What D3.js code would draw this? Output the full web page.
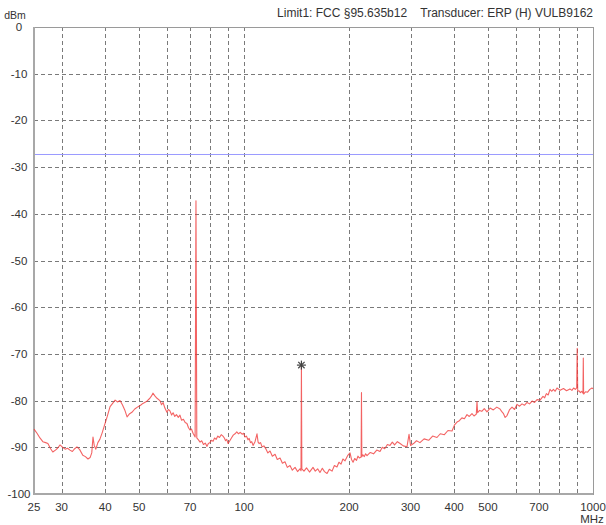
<!DOCTYPE html>
<html>
<head>
<meta charset="utf-8">
<script src="https://cdn.jsdelivr.net/npm/d3@7/dist/d3.min.js"></script>
<style>
  html, body { margin: 0; padding: 0; background: #fff; }
  svg { display: block; }
  text { font-family: "Liberation Sans", Arial, sans-serif; font-size: 11.5px; fill: #333; white-space: pre; }
</style>
</head>
<body>
<svg id="chart" width="606" height="525"></svg>
<script>
// Frequency axis (MHz, log) and level axis (dBm)
const freqDomain = [25, 1000];
const levelDomain = [-100, 0];
const freqTickLabels = [25, 30, 40, 50, 70, 100, 200, 300, 400, 500, 700, 1000];
const freqGridLines = [30, 40, 50, 60, 70, 80, 90, 100, 200, 300, 400, 500, 600, 700, 800, 900];
const levelTicks = [0, -10, -20, -30, -40, -50, -60, -70, -80, -90, -100];
const levelGridLines = [-10, -20, -30, -40, -50, -60, -70, -80, -90];

// Limit line level (dBm)
const limitLevel = -27.3;

// Measured spectrum: [frequency MHz, level dBm]
const trace = [
  [25, -86.1], [25.5, -87.0], [26, -88.0], [26.5, -88.8], [27, -89.0], [27.4, -89.2],
  [27.9, -90.3], [28.3, -91.0], [28.8, -90.6], [29.2, -90.2], [29.7, -89.5], [30.2, -90.0],
  [30.7, -90.4], [31.2, -90.2], [31.7, -90.6], [32.2, -90.9], [32.7, -90.3], [33.2, -89.9],
  [33.8, -90.5], [34.5, -91.7], [35.1, -92.0], [35.7, -92.5], [36.2, -92.2], [36.6, -91.2],
  [36.9, -87.8], [37.2, -89.6], [37.6, -90.4], [38.1, -89.0], [38.6, -88.3], [39.2, -86.9],
  [39.8, -85.3], [40.5, -83.5], [41.3, -81.3], [42.0, -80.6], [42.7, -79.9], [43.4, -80.3],
  [44.1, -80.0], [44.8, -80.9], [45.5, -82.0], [46.2, -83.5], [47.0, -82.8], [47.7, -82.5],
  [48.6, -81.8], [49.7, -81.3], [50.5, -81.0], [51.3, -80.6], [52.5, -80.2], [53.7, -79.5],
  [54.3, -79.0], [54.8, -78.4], [55.5, -79.0], [56.3, -79.5], [57.4, -80.0], [58.0, -80.9],
  [58.6, -80.4], [59.3, -81.6], [60.1, -82.5], [60.7, -81.9], [61.3, -82.2], [62.0, -83.1],
  [62.6, -82.6], [63.3, -83.4], [64.0, -83.0], [64.8, -83.6], [65.5, -83.1], [66.2, -84.2],
  [67.0, -84.0], [67.8, -84.7], [68.6, -84.9], [69.3, -85.8], [70.0, -86.3], [70.7, -86.1],
  [71.4, -87.0], [72.4, -87.8], [72.8, -37.2], [73.2, -88.0], [74.0, -88.4], [74.8, -88.9],
  [75.6, -88.6], [76.5, -89.4], [77.4, -89.1], [78.3, -89.8], [79.0, -89.2], [79.8, -89.0],
  [80.6, -88.5], [81.5, -88.7], [82.3, -88.0], [83.2, -88.3], [84.1, -87.6], [85.0, -87.9],
  [86.0, -87.3], [87.0, -87.6], [87.8, -88.0], [88.5, -88.6], [89.2, -88.3], [90.0, -89.2],
  [91.0, -88.6], [92.0, -88.0], [93.1, -87.4], [94.2, -87.1], [95.3, -86.7], [96.4, -87.1],
  [97.5, -86.8], [98.7, -87.2], [99.7, -87.0], [100.6, -87.8], [101.6, -87.6], [102.6, -88.4],
  [103.4, -88.1], [104.3, -89.0], [105.2, -88.8], [106.1, -89.6], [107.5, -88.8], [108.9, -87.1],
  [109.7, -88.9], [110.5, -89.2], [111.5, -89.0], [112.6, -89.9], [114.0, -89.7], [115.6, -90.4],
  [117.0, -91.2], [118.7, -90.8], [120.5, -91.9], [122.7, -91.5], [124.5, -92.6], [126.8, -92.3],
  [128.8, -93.4], [131.0, -93.1], [133.0, -94.3], [135.4, -93.9], [137.5, -94.9], [140.0, -94.3],
  [142.3, -95.2], [144.6, -94.6], [145.6, -95.0], [146.0, -72.4], [146.4, -94.6], [148.5, -95.1],
  [151.0, -94.4], [154.0, -95.3], [157.6, -94.3], [160.0, -95.1], [162.5, -94.6], [165.0, -95.4],
  [167.6, -94.5], [170.0, -95.2], [172.9, -95.6], [175.5, -94.7], [178.7, -95.1], [181.5, -93.9],
  [184.6, -94.2], [187.0, -93.2], [189.6, -93.6], [192.0, -92.5], [194.7, -92.9], [198.0, -91.8],
  [201.2, -91.2], [203.2, -92.6], [205.3, -93.2], [207.5, -92.4], [210.0, -92.8], [212.0, -91.9],
  [214.0, -92.3], [216.5, -92.1], [217.0, -78.3], [217.5, -92.0], [219.0, -91.6], [221.0, -92.0],
  [223.0, -91.4], [225.1, -91.8], [230.0, -91.1], [235.0, -91.4], [240.0, -90.6], [245.2, -90.9],
  [249.0, -90.0], [253.0, -90.3], [257.5, -89.4], [261.9, -89.6], [266.0, -88.9], [270.0, -89.5],
  [275.0, -88.8], [280.0, -89.2], [286.0, -89.7], [293.0, -89.9], [297.0, -87.2], [300.0, -89.6],
  [306.0, -89.2], [312.0, -88.6], [319.2, -89.0], [328.0, -88.2], [338.0, -88.5], [347.0, -87.6],
  [357.1, -87.9], [365.0, -87.1], [375.0, -87.3], [384.0, -86.4], [394.4, -86.5], [401.0, -85.2],
  [407.6, -84.6], [414.0, -84.3], [421.0, -83.7], [428.0, -83.9], [435.4, -83.0], [442.0, -83.4],
  [450.0, -82.8], [456.0, -83.3], [463.0, -82.9], [465.1, -80.2], [467.0, -82.6], [473.0, -82.1],
  [480.0, -82.3], [488.0, -81.7], [496.8, -82.4], [507.0, -81.6], [518.0, -82.0], [530.0, -81.4],
  [541.3, -81.8], [547.0, -82.3], [554.0, -82.8], [560.0, -83.6], [567.0, -83.2], [576.0, -82.0],
  [586.0, -81.4], [596.0, -81.9], [605.7, -80.8], [616.0, -81.2], [626.0, -80.7], [636.0, -81.0],
  [647.0, -80.4], [658.0, -80.7], [669.0, -80.1], [680.0, -80.4], [691.2, -79.8], [705.0, -79.9],
  [718.9, -79.1], [727.0, -79.4], [735.0, -78.5], [744.0, -78.8], [752.9, -77.6], [761.0, -78.0],
  [770.0, -77.6], [779.0, -78.0], [788.5, -77.3], [805.0, -77.8], [823.0, -77.4], [840.0, -77.9],
  [858.8, -77.5], [870.0, -77.8], [880.0, -77.3], [890.0, -77.6], [898.0, -77.3], [901.0, -68.8],
  [904.0, -78.0], [912.0, -77.9], [920.0, -78.3], [928.0, -78.0], [936.0, -78.4], [938.0, -70.9],
  [940.0, -78.6], [952.0, -78.1], [965.0, -78.2], [979.0, -77.6], [993.4, -77.3], [1000, -77.5]
];

// Peak marker
const markerFreq = 146.0;
const markerLevel = -72.4;

const headerText = "Limit1: FCC §95.635b12    Transducer: ERP (H) VULB9162";

const plot = { left: 34, right: 593, top: 27, bottom: 494 };
const svg = d3.select("#chart");

const x = d3.scaleLog().domain(freqDomain).range([plot.left, plot.right]);
const y = d3.scaleLinear().domain(levelDomain).range([plot.bottom, plot.top]);

// Dashed grid
const grid = svg.append("g")
  .attr("stroke", "#7a7a7a").attr("stroke-width", 1).attr("stroke-dasharray", "4,3");
grid.selectAll("line.v").data(freqGridLines).join("line")
  .attr("class", "v")
  .attr("x1", d => Math.round(x(d)) + 0.5).attr("x2", d => Math.round(x(d)) + 0.5)
  .attr("y1", plot.top).attr("y2", plot.bottom);
grid.selectAll("line.h").data(levelGridLines).join("line")
  .attr("class", "h")
  .attr("x1", plot.left).attr("x2", plot.right)
  .attr("y1", d => Math.round(y(d)) + 0.5).attr("y2", d => Math.round(y(d)) + 0.5);

// Limit line
svg.append("line")
  .attr("x1", plot.left).attr("x2", plot.right)
  .attr("y1", y(limitLevel)).attr("y2", y(limitLevel))
  .attr("stroke", "#9a9aff").attr("stroke-width", 1);

// Frame
svg.append("rect")
  .attr("x", plot.left + 0.5).attr("y", plot.top + 0.5)
  .attr("width", plot.right - plot.left).attr("height", plot.bottom - plot.top)
  .attr("fill", "none").attr("stroke", "#9a9a9a").attr("stroke-width", 1);
svg.append("path")
  .attr("d", `M${plot.left},${plot.top}V${plot.bottom}H${plot.right}`)
  .attr("fill", "none").attr("stroke", "#a8a8a8").attr("stroke-width", 2);

// Spectrum trace
const line = d3.line().x(d => x(d[0])).y(d => y(d[1]));
svg.append("path")
  .datum(trace)
  .attr("d", line)
  .attr("fill", "none")
  .attr("stroke", "#f03c3c")
  .attr("stroke-opacity", 0.8)
  .attr("stroke-width", 1.1)
  .attr("stroke-linejoin", "round");

// Peak marker (asterisk)
const mx = x(markerFreq), my = y(markerLevel), r = 4.5;
const marker = svg.append("g").attr("stroke", "#444").attr("stroke-width", 1.2);
[0, 45, 90, 135].forEach(a => {
  const rad = a * Math.PI / 180;
  marker.append("line")
    .attr("x1", mx - r * Math.cos(rad)).attr("y1", my - r * Math.sin(rad))
    .attr("x2", mx + r * Math.cos(rad)).attr("y2", my + r * Math.sin(rad));
});

// Level labels
svg.append("g").selectAll("text").data(levelTicks).join("text")
  .attr("x", 19).attr("y", d => y(d))
  .attr("dy", "0.35em").attr("text-anchor", "middle")
  .text(d => d);
svg.append("text").attr("x", 15).attr("y", 15).attr("dy", "0.35em")
  .attr("text-anchor", "middle").style("font-size", "10.5px").text("dBm");

// Frequency labels
svg.append("g").selectAll("text").data(freqTickLabels).join("text")
  .attr("x", d => x(d)).attr("y", 507).attr("dy", "0.35em")
  .attr("text-anchor", "middle")
  .text(d => d);
svg.append("text").attr("x", 592).attr("y", 519).attr("dy", "0.35em")
  .attr("text-anchor", "middle").text("MHz");

// Header
svg.append("text").attr("x", 593).attr("y", 13).attr("dy", "0.35em")
  .attr("text-anchor", "end").style("font-size", "12px").text(headerText);
</script>
</body>
</html>
